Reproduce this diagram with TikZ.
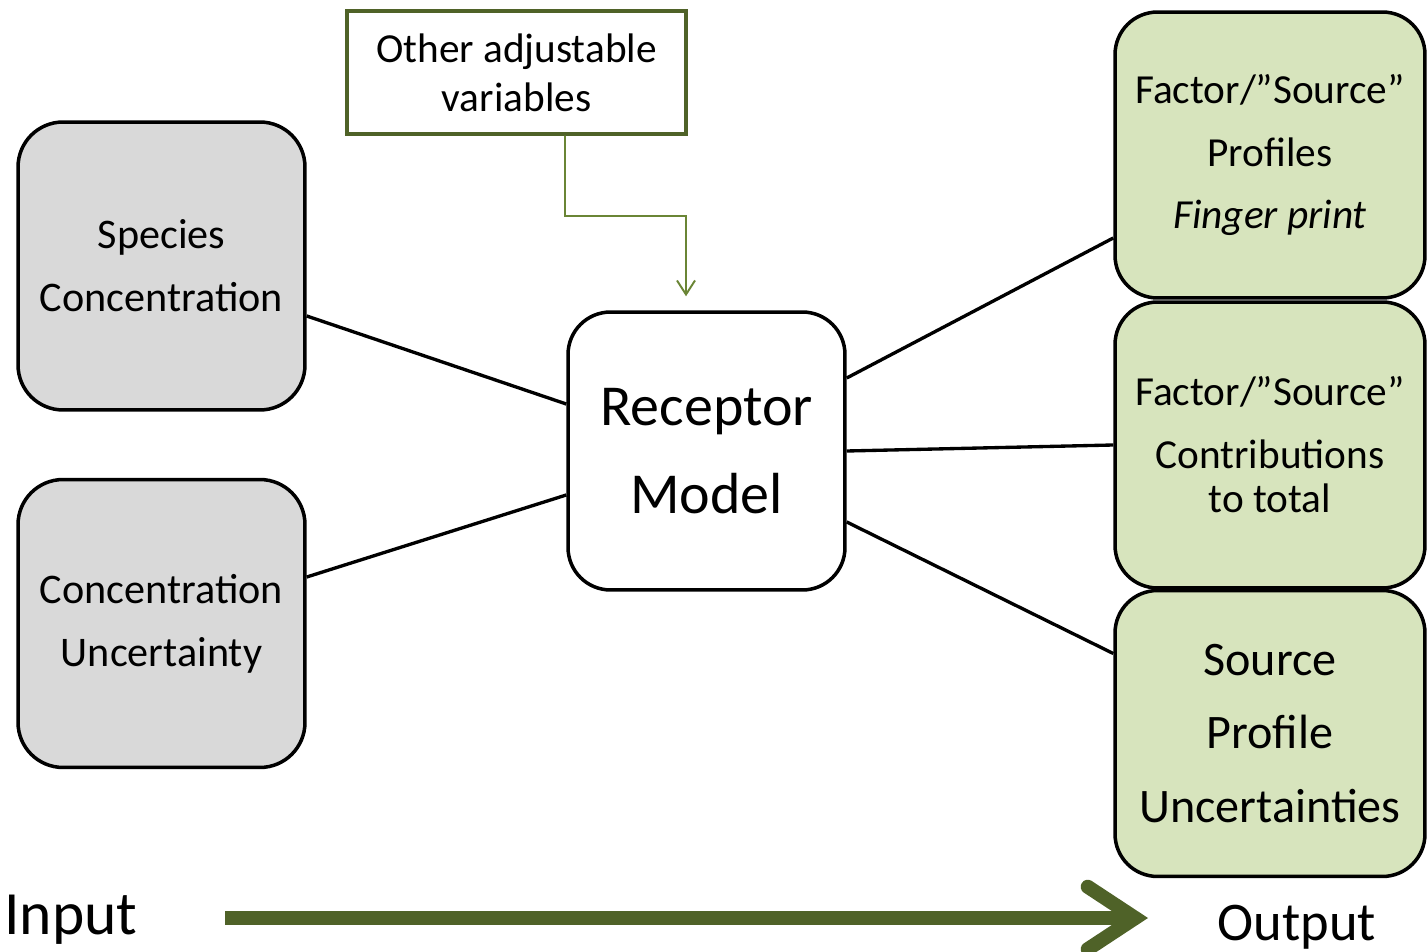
\documentclass[tikz,border=0pt]{standalone}
\usepackage{fontspec}
\setmainfont{Carlito}
\usepackage{tikz}
\usetikzlibrary{positioning, calc}
\usetikzlibrary{arrows.meta}
\definecolor{olivedark}{HTML}{4F6228}
\definecolor{oliveline}{HTML}{6A8535}
\definecolor{olivefill}{HTML}{D7E4BD}
\definecolor{greyfill}{HTML}{D9D9D9}

\begin{document}
\begin{tikzpicture}[x=0.02cm,y=-0.02cm,>=stealth,
  inbox/.style={draw=black, line width=2pt, fill=greyfill, rounded corners=0.9cm,
    minimum width=5.74cm, minimum height=5.76cm, inner sep=0pt, align=center,
    font=\fontsize{24}{36}\selectfont},
  outbox/.style={draw=black, line width=2pt, fill=olivefill, rounded corners=0.85cm,
    minimum width=6.2cm, minimum height=5.72cm, inner sep=0pt, align=center,
    font=\fontsize{23.5}{35.5}\selectfont},
  modelbox/.style={draw=black, line width=2pt, fill=white, rounded corners=0.85cm,
    minimum width=5.54cm, minimum height=5.56cm, inner sep=0pt, align=center,
    font=\fontsize{33}{50}\selectfont},
  adjbox/.style={draw=olivedark, line width=1.8pt, fill=white,
    minimum width=6.78cm, minimum height=2.46cm, inner sep=0pt, align=center,
    font=\fontsize{23.5}{28}\selectfont},
  link/.style={draw=black, line width=1.9pt},
  ctrlarrow/.style={draw=oliveline, line width=1.1pt,
    -{Straight Barb[length=0.28cm,width=0.36cm]}},
  flowarrow/.style={draw=olivedark, line width=8pt,
    -{Straight Barb[length=0.95cm,width=1.25cm,line cap=round]}},
  flowlabel/.style={inner sep=0pt, font=\fontsize{35}{40}\selectfont}]

\useasboundingbox (0,0) rectangle (1427,952);

% --- Input
\node[inbox] (spec) at (161.5,266) {Species\\Concentration};
\node[inbox] (unc) at (161.5,623.5) {Concentration\\Uncertainty};

% --- Modello
\node[modelbox] (rm) at (706.5,451) {Receptor\\Model};
\node[adjbox] (adj) at (516.5,72.5) {Other adjustable\\variables};

% --- Output
\node[outbox] (prof) at (1270,155) {Factor/\textquotedblright Source\textquotedblright\\Profiles\\\textit{Finger print}};
\node[outbox] (contr) at (1270,445) {Factor/\textquotedblright Source\textquotedblright\\Contributions\\[-10pt]to total};
\node[outbox, font=\fontsize{27.4}{41.7}\selectfont] (punc) at (1270,733.5) {Source\\Profile\\Uncertainties};

% --- Collegamenti
\draw[link] ([yshift=-1cm]spec.east) -- ([yshift=0.94cm]rm.west);
\draw[link] ([yshift=0.93cm]unc.east) -- ([yshift=-0.88cm]rm.west);
\draw[link] ([yshift=1.46cm]rm.east) -- ([yshift=-1.66cm]prof.west);
\draw[link] (rm.east) -- (contr.west);
\draw[link] ([yshift=-1.42cm]rm.east) -- ([yshift=1.6cm]punc.west);

% --- Freccia variabili
\coordinate (bend) at (686,216);
\draw[ctrlarrow] ([xshift=0.97cm]adj.south) |- (bend) -- ([xshift=-0.41cm,yshift=0.28cm]rm.north);

% --- Freccia Input -> Output
\node[flowlabel, anchor=west] (inp) at (4,920) {Input};
\node[flowlabel, font=\fontsize{31}{36}\selectfont] (outp) at (1297,927) {Output};
\coordinate (flowstart) at (225,918);
\coordinate (flowend) at (1148,918);
\draw[flowarrow] (flowstart) -- (flowend);

\end{tikzpicture}
\end{document}
